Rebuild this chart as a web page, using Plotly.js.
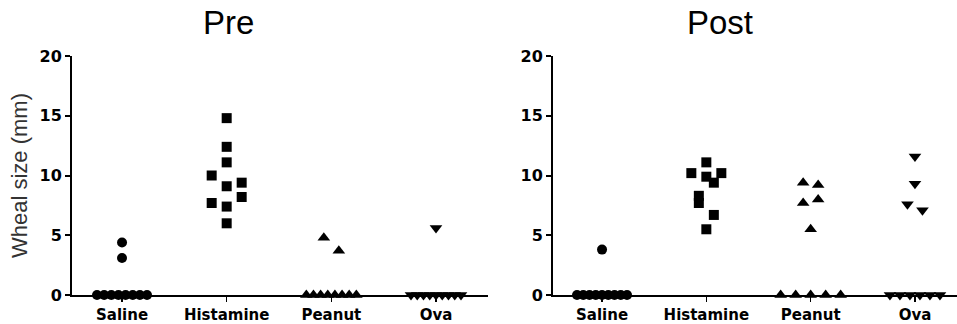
<!DOCTYPE html>
<html>
<head>
<meta charset="utf-8">
<script src="https://cdn.plot.ly/plotly-3.0.1.min.js"></script>
<style>html,body{margin:0;padding:0;background:#fff;}#chart{width:957px;height:324px;}</style>
</head>
<body>
<div id="chart"></div>
<script>
// ---- data (wheal size, mm) ----
const categories = ['Saline', 'Histamine', 'Peanut', 'Ova'];
const panelTitles = ['Pre', 'Post'];
const yTickVals = [0, 5, 10, 15, 20];

const preSaline    = [4.4, 3.1, 0, 0, 0, 0, 0, 0, 0, 0];
const preHistamine = [14.8, 12.4, 11.1, 10.0, 9.1, 9.4, 7.7, 7.4, 8.2, 6.0];
const prePeanut    = [4.8, 3.7, 0, 0, 0, 0, 0, 0, 0, 0];
const preOva       = [5.6, 0, 0, 0, 0, 0, 0, 0, 0, 0];

const postSaline    = [3.8, 0, 0, 0, 0, 0, 0, 0, 0, 0];
const postHistamine = [11.1, 10.2, 9.9, 10.2, 8.3, 9.4, 7.7, 6.7, 5.5];
const postPeanut    = [9.4, 9.2, 7.7, 8.0, 5.5, 0, 0, 0, 0, 0];
const postOva       = [11.6, 9.3, 7.6, 7.1, 0, 0, 0, 0, 0, 0];

const preGroups  = [preSaline, preHistamine, prePeanut, preOva];
const postGroups = [postSaline, postHistamine, postPeanut, postOva];
const symbols = ['circle', 'square', 'triangle-up', 'triangle-down'];

// ---- geometry ----
const W = 957, H = 324, ML = 72, MR = 0, MT = 56, MB = 29;
const plotW = W - ML - MR, plotH = H - MT - MB;
const dom1 = [0, 416 / plotW], dom2 = [481 / plotW, 1];
const range1 = [-0.478, 3.497], range2 = [-0.47, 3.403];
const yRange = [0, 20];
const pxY = plotH / (yRange[1] - yRange[0]);
function pxPerUnitX(dom, rng) { return (dom[1] - dom[0]) * plotW / (rng[1] - rng[0]); }

// deterministic scatter-dot layout: points close in value share a row, centred
function layoutGroup(vals, pxX) {
  const idx = vals.map((v, i) => i).sort((a, b) => vals[a] - vals[b] || a - b);
  const rows = [];
  idx.forEach(i => {
    const r = rows[rows.length - 1];
    if (r && (vals[i] - vals[r[0]]) * pxY < 14) r.push(i); else rows.push([i]);
  });
  const offs = new Array(vals.length).fill(0);
  rows.forEach(r => {
    const n = r.length;
    const sp = (n - 1) * 15 <= 60 ? 15 : 50 / (n - 1);
    r.slice().sort((a, b) => a - b).forEach((i, k) => { offs[i] = (k - (n - 1) / 2) * sp; });
  });
  return offs.map(o => o / pxX);
}

const traces = [];
function addPanel(groups, xa, ya, dom, rng) {
  const pxX = pxPerUnitX(dom, rng);
  groups.forEach((vals, ci) => {
    const offs = layoutGroup(vals, pxX);
    traces.push({
      type: 'scatter', mode: 'markers', xaxis: xa, yaxis: ya,
      x: vals.map((v, i) => ci + offs[i]), y: vals,
      cliponaxis: false, showlegend: false, hoverinfo: 'y',
      marker: { symbol: symbols[ci], color: '#000', size: ci >= 2 ? 11 : 10, line: { width: 0 } }
    });
  });
}
addPanel(preGroups, 'x', 'y', dom1, range1);
addPanel(postGroups, 'x2', 'y2', dom2, range2);

const tickFontY = { family: 'DejaVu Sans', size: 16, color: '#000', weight: 'bold' };
const tickFontX = { family: 'DejaVu Sans', size: 15, color: '#000', weight: 'bold' };
function xAxis(dom, rng, anchor) {
  return { domain: dom, range: rng, anchor: anchor, showline: true, linewidth: 2, linecolor: '#000',
    showgrid: false, zeroline: false, tickmode: 'array', tickvals: categories.map((c, i) => i), ticktext: categories,
    ticks: 'outside', ticklen: 5, tickwidth: 1.5, tickcolor: '#000', tickfont: tickFontX, fixedrange: true };
}
function yAxis(anchor, withTitle) {
  const a = { range: yRange, anchor: anchor, showline: true, linewidth: 2, linecolor: '#000', showgrid: false,
    zeroline: false, tickmode: 'array', tickvals: yTickVals, ticks: 'outside', ticklen: 5, tickwidth: 2,
    tickcolor: '#000', tickfont: tickFontY, fixedrange: true };
  if (withTitle) a.title = { text: 'Wheal size (mm)', font: { family: 'Liberation Sans, Arial', size: 22, color: '#333' }, standoff: 6 };
  return a;
}

const layout = {
  width: W, height: H, margin: { l: ML, r: MR, t: MT, b: MB, pad: 0 },
  paper_bgcolor: '#fff', plot_bgcolor: '#fff', showlegend: false,
  xaxis: xAxis(dom1, range1, 'y'), yaxis: yAxis('x', true),
  xaxis2: xAxis(dom2, range2, 'y2'), yaxis2: yAxis('x2', false),
  annotations: [
    { text: panelTitles[0], xref: 'paper', yref: 'paper', x: (228 - ML) / plotW, y: 1 + (MT - 23) / plotH,
      xanchor: 'center', yanchor: 'middle', showarrow: false, font: { family: 'Liberation Sans, Arial', size: 33, color: '#000' } },
    { text: panelTitles[1], xref: 'paper', yref: 'paper', x: (720 - ML) / plotW, y: 1 + (MT - 23) / plotH,
      xanchor: 'center', yanchor: 'middle', showarrow: false, font: { family: 'Liberation Sans, Arial', size: 33, color: '#000' } }
  ]
};

Plotly.newPlot('chart', traces, layout, { staticPlot: true, displayModeBar: false });
</script>
</body>
</html>
